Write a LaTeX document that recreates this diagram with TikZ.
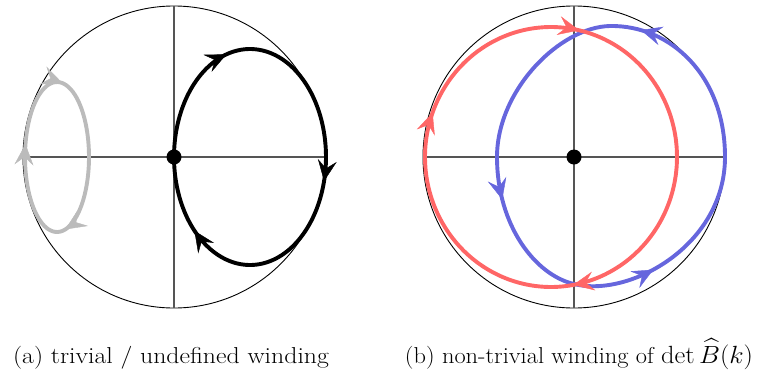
\documentclass[tikz,border=0pt]{standalone}
\usepackage{amsmath}
\usetikzlibrary{arrows.meta,decorations.markings}
\definecolor{redc}{RGB}{255,102,102}
\definecolor{bluec}{RGB}{102,102,221}
\definecolor{grayc}{RGB}{187,187,187}
\definecolor{axisc}{RGB}{85,85,85}
\tikzset{
  tipst/.tip={Stealth[length=21pt,width=19pt,inset=8pt]},
  frame/.style={draw=black, line width=0.9pt},
  axis/.style={draw=axisc, line width=1.1pt},
  loopline/.style={line width=3.9pt},
  dot/.style={circle, fill=black, inner sep=0pt, minimum size=15pt},
  captext/.style={font=\fontsize{23}{27}\selectfont, inner sep=0pt, anchor=base},
}
% arrow tip on an ellipse: cx, cy, rx, ry, angle, colour
\newcommand\elltip[6]{%
  \path[decorate, decoration={markings, mark=at position 0.99 with {\arrow[#6]{tipst}}}]
    plot[domain={#5-4}:{#5}, samples=6] ({#1+#3*cos(\x)},{#2+#4*sin(\x)});}
\newcommand\captbox[2]{\scalebox{#1}[1]{#2}}
\begin{document}
\begin{tikzpicture}[x=1pt,y=-1pt]
\useasboundingbox (0,0) rectangle (759,378);

% ---------- panel (a)
\coordinate (oa) at (174,157);
\draw[frame] (oa) circle (151pt);
\draw[axis] (23,157) -- (325,157);
\draw[axis] (174,6) -- (174,308);
% gray loop
\draw[grayc, loopline] plot[domain=0:360, samples=90, smooth cycle] ({57+32*cos(\x)},{157+75*sin(\x)});
\elltip{57}{157}{32}{75}{75}{grayc}
\elltip{57}{157}{32}{75}{190}{grayc}
\elltip{57}{157}{32}{75}{280}{grayc}
% black loop
\draw[black, loopline] plot[domain=0:360, samples=90, smooth cycle] ({250+76*cos(\x)},{157+108*sin(\x)});
\elltip{250}{157}{76}{108}{13}{black}
\elltip{250}{157}{76}{108}{137}{black}
\elltip{250}{157}{76}{108}{252}{black}
\node[dot] (da) at (oa) {};

% ---------- panel (b)
\coordinate (ob) at (574,157);
\draw[frame] (ob) circle (151pt);
\draw[axis] (423,157) -- (725,157);
\draw[axis] (574,6) -- (574,308);
% blue loop
\coordinate (bT) at (610,26);
\coordinate (bL) at (497,157);
\coordinate (bB) at (574,284);
\coordinate (bR) at (725,157);
\draw[bluec, loopline, line join=round]
  (bT) .. controls (560,27) and (497,90) .. (bL)
       .. controls (497,225) and (535,275) .. (bB)
       .. controls (630,298) and (725,245) .. (bR)
       .. controls (725,75) and (670,25) .. (bT) -- cycle;
\path[decorate, decoration={markings, mark=at position 0.27 with {\arrow[bluec]{tipst}}}]
  (bL) .. controls (497,225) and (535,275) .. (bB);
\path[decorate, decoration={markings, mark=at position 0.37 with {\arrow[bluec]{tipst}}}]
  (bB) .. controls (630,298) and (725,245) .. (bR);
\path[decorate, decoration={markings, mark=at position 0.84 with {\arrow[bluec]{tipst}}}]
  (bR) .. controls (725,75) and (670,25) .. (bT);
% red loop
\draw[redc, loopline] plot[domain=0:360, samples=90, smooth cycle] ({551+126*cos(\x)},{157+130*sin(\x)});
\elltip{551}{157}{126}{130}{80}{redc}
\elltip{551}{157}{126}{130}{200}{redc}
\elltip{551}{157}{126}{130}{283}{redc}
\node[dot] (db) at (ob) {};

% ---------- captions
\node[captext] (capA) at (171,363) {\captbox{1.12}{(a) trivial / undefined winding}};
\node[captext] (capB) at (579,363) {\captbox{1.06}{(b) non-trivial winding of $\det\widehat{B}(k)$}};
\end{tikzpicture}
\end{document}
